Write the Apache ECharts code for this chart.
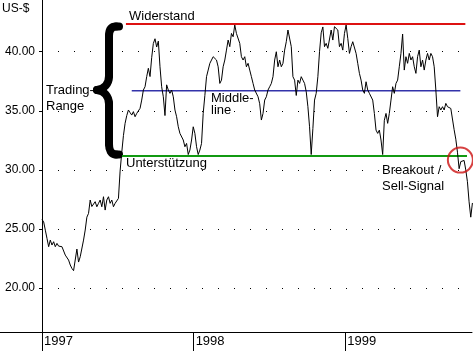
<!DOCTYPE html>
<html>
<head>
<meta charset="utf-8">
<script src="https://cdn.jsdelivr.net/npm/echarts@6/dist/echarts.min.js"></script>
<style>
  html, body { margin: 0; padding: 0; background: #fff; }
  #chart { width: 473px; height: 351px; }
</style>
</head>
<body>
<div id="chart"></div>
<script>
// sampling: one close every 4 calendar days from 1 Jan 1997
const startDate = [1997, 0, 1];
const stepDays = 4;

const prices = [
  25.8, 25.6, 24.9, 24.2, 23.5, 24.06, 23.64, 23.92, 23.5, 23.78,
  23.55, 23.64, 23.5, 23.36, 22.79, 22.65, 22.37, 21.95, 21.66, 21.47,
  21.6, 23.3, 22.2, 22.65, 22.51, 24.06, 24.91, 26.0, 26.32, 27.45,
  26.9, 26.8, 27.31, 26.88, 27.17, 27.45, 26.88, 27.73, 26.6, 27.45,
  27.73, 27.17, 27.45, 26.88, 27.17, 27.03, 27.59, 29.9, 31.5, 32.9,
  33.94, 34.6, 35.07, 34.85, 34.64, 34.93, 34.5, 34.78, 34.93, 35.21,
  35.91, 36.76, 37.04, 37.89, 38.6,
  37.9, 39.5, 40.7, 41.1, 40.4, 40.9, 38.73, 37.04, 36.19, 34.6,
  37.2, 36.76, 36.48, 36.76, 36.19, 35.07, 34.5, 33.65, 33.09, 33.23,
  32.53, 31.96, 32.24, 31.3, 31.68, 32.53, 33.65, 33.09, 31.96, 31.3,
  31.68, 32.24, 34.78, 36.3, 37.89, 38.45, 39.02, 39.3, 39.58, 39.44,
  39.3, 38.73, 37.32, 37.6, 38.73, 39.3, 40.14, 40.99, 40.43, 41.55,
  41.27, 42.26, 41.55, 41.7, 40.71, 39.58, 39.3, 39.58, 38.73, 39.02,
  38.45, 37.89, 37.32, 36.76, 36.62, 36.19,
  35.6, 34.22, 34.78, 35.91, 36.19, 36.76, 37.04, 37.32, 37.89, 39.3,
  40.0, 38.73, 39.3, 38.73, 39.02, 40.14, 40.85, 41.84, 41.7, 40.43,
  37.89, 37.6, 36.3, 37.6, 37.32, 37.89, 37.6, 37.32, 36.62, 35.35,
  33.65, 31.3, 33.5, 35.91, 36.48, 37.89, 40.0, 41.6, 42.1, 40.43,
  40.71, 40.29, 40.43, 41.84, 40.99, 42.12, 42.26, 41.84, 40.43, 40.71,
  40.14, 41.55, 42.26, 41.13, 39.86, 40.43, 40.85, 40.71, 39.86, 39.02,
  38.17, 37.6, 36.76, 36.48, 37.46, 36.76, 36.48,
  36.5, 35.91, 34.78, 33.37, 33.09, 33.37, 32.53, 31.3, 34.2, 34.78,
  33.94, 34.78, 35.91, 37.04, 36.48, 37.32, 37.6, 38.73, 39.86, 41.5,
  38.45, 39.58, 39.02, 39.86, 39.3, 39.58, 38.73, 38.17, 39.58, 40.14,
  38.73, 39.3, 38.45, 39.3, 39.86, 39.3, 39.86, 39.58, 38.73, 36.76,
  34.5, 35.35, 35.07, 35.35, 35.07, 35.63, 35.35, 35.49, 35.2, 35.35,
  33.4, 32.6, 31.5, 30.1, 30.7, 30.55, 30.8, 30.0, 29.0, 27.3,
  26.0, 27.2
];

// trading range levels
const resistance = { value: 42.34, from: '1997-07-22', to: '1999-10-17' };
const middle     = { value: 36.70, from: '1997-08-05', to: '1999-10-05' };
const support    = { value: 31.17, from: '1997-07-12', to: '1999-10-21' };
const breakout   = { date: '1999-10-05', value: 30.83 };

const yTicks = [20, 25, 30, 35, 40];
const axisMin = '1997-01-01';
const axisMax = '1999-11-02';

const FONT = "'Liberation Sans', Arial, sans-serif";
const DAY = 24 * 3600 * 1000;

const toTime = s => {
  const p = s.split('-').map(Number);
  return new Date(p[0], p[1] - 1, p[2]).getTime();
};

const priceData = prices.map((v, i) => [
  new Date(startDate[0], startDate[1], startDate[2] + i * stepDays).getTime(), v
]);

const levelSeries = (lvl, color, width) => ({
  type: 'line',
  data: [[toTime(lvl.from), lvl.value], [toTime(lvl.to), lvl.value]],
  symbol: 'none',
  silent: true,
  lineStyle: { color: color, width: width },
  z: 2
});

const txt = (text, x, y, size) => ({
  type: 'text',
  x: x, y: y,
  silent: true,
  style: {
    text: text,
    fill: '#000',
    font: (size || 13) + 'px ' + FONT,
    align: 'left',
    verticalAlign: 'middle'
  }
});

// brace drawn from straight and curved strokes
const braceStyle = { stroke: '#000', lineWidth: 8, lineCap: 'round', fill: null };
const bLine = (x1, y1, x2, y2) => ({ type: 'line', silent: true, shape: { x1, y1, x2, y2 }, style: braceStyle });
const bCurve = (x1, y1, cpx1, cpy1, cpx2, cpy2, x2, y2) => ({
  type: 'bezierCurve', silent: true,
  shape: { x1, y1, cpx1, cpy1, cpx2, cpy2, x2, y2 }, style: braceStyle
});

const chart = echarts.init(document.getElementById('chart'));

chart.setOption({
  animation: false,
  backgroundColor: '#fff',
  grid: { left: 42, right: 1, top: 0, bottom: 19 },
  xAxis: {
    type: 'time',
    min: toTime(axisMin),
    max: toTime(axisMax),
    minInterval: 365 * DAY,
    maxInterval: 366 * DAY,
    axisLine: { onZero: false, lineStyle: { color: '#000', width: 1 } },
    axisTick: { show: true, length: 19, lineStyle: { color: '#000' } },
    axisLabel: {
      color: '#000',
      fontFamily: FONT,
      fontSize: 13,
      align: 'left',
      margin: 3,
      padding: [0, 0, 0, 2],
      formatter: '{yyyy}',
      showMinLabel: true,
      showMaxLabel: false
    },
    splitLine: { show: false }
  },
  yAxis: {
    type: 'value',
    min: 16.28,
    max: 44.38,
    axisLine: { show: true, lineStyle: { color: '#000' } },
    axisTick: { show: true, length: 3, customValues: yTicks, lineStyle: { color: '#000' } },
    axisLabel: {
      customValues: yTicks,
      formatter: v => v.toFixed(2),
      color: '#000',
      fontFamily: FONT,
      fontSize: 12,
      margin: 7
    },
    splitLine: { show: true, lineStyle: { color: '#000', width: 1, type: [1, 15] } }
  },
  graphic: [
    // bottom rule continues under the y-axis labels
    { type: 'line', silent: true, shape: { x1: 0, y1: 332.5, x2: 42, y2: 332.5 }, style: { stroke: '#000', lineWidth: 1 } },
    bLine(119, 26.5, 116, 26.5),
    bCurve(116, 26.5, 111, 26.5, 109, 30, 109, 36),
    bLine(109, 36, 109, 76),
    bCurve(109, 76, 109, 84, 104, 89, 97, 90),
    bCurve(97, 90, 104, 91, 109, 96, 109, 104),
    bLine(109, 104, 109, 144),
    bCurve(109, 144, 109, 150, 111, 154.5, 116, 154.5),
    bLine(116, 154.5, 119, 154.5),
    txt('US-$', 2, 9, 12),
    txt('Widerstand', 129, 16),
    txt('Trading-', 46, 90),
    txt('Range', 46, 106),
    txt('Middle-', 211, 98),
    txt('line', 211, 110),
    txt('Unterstützung', 126, 163),
    txt('Breakout /', 382, 170),
    txt('Sell-Signal', 382, 186)
  ],
  series: [
    levelSeries(resistance, '#dd1111', 2),
    levelSeries(middle, '#3333aa', 1.5),
    levelSeries(support, '#119911', 2),
    {
      type: 'line',
      data: priceData,
      showSymbol: false,
      symbol: 'none',
      silent: true,
      lineStyle: { color: '#000', width: 1 },
      z: 3
    },
    {
      type: 'scatter',
      data: [[toTime(breakout.date), breakout.value]],
      symbol: 'circle',
      symbolSize: 25,
      silent: true,
      itemStyle: { color: 'rgba(0,0,0,0)', borderColor: '#cc1111', borderWidth: 2 },
      z: 4
    }
  ]
});
</script>
</body>
</html>
